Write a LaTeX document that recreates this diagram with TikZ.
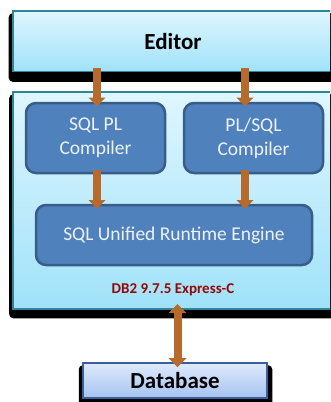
\documentclass[tikz,border=0pt]{standalone}
\usepackage{fontspec}
\setmainfont{Carlito}
\usetikzlibrary{arrows.meta,calc,backgrounds}
\definecolor{paneltop}{RGB}{223,246,254}
\definecolor{panelbot}{RGB}{160,226,249}
\definecolor{panelline}{RGB}{49,133,155}
\definecolor{compfill}{RGB}{79,129,189}
\definecolor{compline}{RGB}{56,93,138}
\definecolor{arrowc}{RGB}{182,107,45}
\definecolor{dbtop}{RGB}{222,234,252}
\definecolor{dbbot}{RGB}{165,195,240}
\definecolor{dbline}{RGB}{58,95,155}
\definecolor{verred}{RGB}{150,8,8}
\definecolor{comptext}{RGB}{238,242,248}
\begin{document}
\begin{tikzpicture}[x=1pt,y=-1pt,
  panel/.style={rectangle, draw=panelline, line width=1.6pt, top color=paneltop, bottom color=panelbot, inner sep=0pt},
  compbox/.style={rectangle, rounded corners=10pt, draw=compline, line width=2.5pt, fill=compfill, inner sep=0pt,
    text=comptext, font=\fontsize{19.5}{24}\selectfont, align=center},
  dbbox/.style={rectangle, draw=dbline, line width=1.5pt, top color=dbtop, bottom color=dbbot, inner sep=0pt,
    font=\fontsize{23}{26}\selectfont\bfseries},
  shad/.style={fill=black, rounded corners=4pt},
  fat/.style={draw=arrowc, line width=7.5pt, -{Triangle[width=17pt,length=9pt,line width=0pt]}},
  fatboth/.style={draw=arrowc, line width=8pt, {Triangle[width=18pt,length=9pt,line width=0pt]}-{Triangle[width=18pt,length=9pt,line width=0pt]}}
]
\useasboundingbox (0,0) rectangle (330,402);
\clip (0,0) rectangle (330,402);

% Editor
\node[panel, minimum width=320pt, minimum height=60.5pt, font=\fontsize{23}{26}\selectfont\bfseries] (editor) at (173,41.25) {Editor};

% Container
\node[panel, minimum width=320pt, minimum height=217pt] (engine box) at (173,200.5) {};
\node[font=\fontsize{15}{17}\selectfont\bfseries, text=verred] (version) at (173,290) {DB2 9.7.5 Express-C};

% Compilers
\node[compbox, minimum width=139pt, minimum height=70pt] (sqlpl) at (95.5,138) {SQL PL\\Compiler};
\node[compbox, minimum width=139pt, minimum height=70pt] (plsql) at (253.5,138) {PL/SQL\\Compiler};

% Engine
\node[compbox, minimum width=276pt, minimum height=60pt] (engine) at (174,235) {SQL Unified Runtime Engine};

% Database
\node[dbbox, minimum width=184pt, minimum height=35pt] (db) at (175,380.5) {Database};

% Shadows
\begin{scope}[on background layer]
  \fill[shad] ($(editor.north west)+(-3.5,3)$) rectangle ($(editor.south east)+(4,9.5)$);
  \fill[shad] ($(engine box.north west)+(-3,3)$) rectangle ($(engine box.south east)+(4,8.5)$);
  \fill[shad] ($(db.north west)+(-3.5,3)$) rectangle ($(db.south east)+(4.5,9)$);
\end{scope}

% Arrows
\coordinate (e1) at (97,68);   \coordinate (c1) at (97,106.5);
\coordinate (e2) at (245,68);  \coordinate (c2) at (245,106.5);
\coordinate (s1) at (97,170);  \coordinate (r1) at (97,209);
\coordinate (s2) at (245,170); \coordinate (r2) at (245,209);
\coordinate (vtop) at (177.5,304); \coordinate (vbot) at (177.5,367);
\draw[fat] (e1) -- (c1);
\draw[fat] (e2) -- (c2);
\draw[fat] (s1) -- (r1);
\draw[fat] (s2) -- (r2);
\draw[fatboth] (vtop) -- (vbot);
\end{tikzpicture}
\end{document}
